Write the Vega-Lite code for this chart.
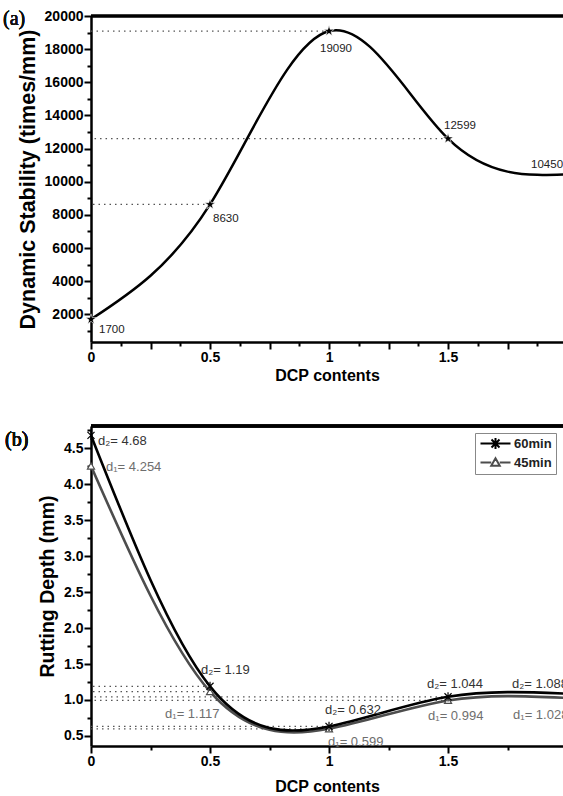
{
  "$schema": "https://vega.github.io/schema/vega-lite/v6.json",
  "background": "white",
  "padding": {"left": 3, "top": 9, "right": 0, "bottom": 0},
  "spacing": 40,
  "datasets": {
    "stab": [
      {"c": 0, "v": 1700},
      {"c": 0.5, "v": 8630},
      {"c": 1, "v": 19090},
      {"c": 1.5, "v": 12599},
      {"c": 2, "v": 10450}
    ],
    "rut": [
      {"c": 0, "d": 4.254, "s": "45min", "lab": "d₁= 4.254"},
      {"c": 0.5, "d": 1.117, "s": "45min", "lab": "d₁= 1.117"},
      {"c": 1, "d": 0.599, "s": "45min", "lab": "d₁= 0.599"},
      {"c": 1.5, "d": 0.994, "s": "45min", "lab": "d₁= 0.994"},
      {"c": 2, "d": 1.028, "s": "45min", "lab": "d₁= 1.028"},
      {"c": 0, "d": 4.68, "s": "60min", "lab": "d₂= 4.68"},
      {"c": 0.5, "d": 1.19, "s": "60min", "lab": "d₂= 1.19"},
      {"c": 1, "d": 0.632, "s": "60min", "lab": "d₂= 0.632"},
      {"c": 1.5, "d": 1.044, "s": "60min", "lab": "d₂= 1.044"},
      {"c": 2, "d": 1.088, "s": "60min", "lab": "d₂= 1.088"}
    ]
  },
  "resolve": {"scale": {"color": "independent"}, "legend": {"color": "independent"}},
  "vconcat": [
    {
      "width": 472,
      "height": 326,
      "data": {"name": "stab"},
      "layer": [
        {"mark": {"type": "rule", "color": "black", "strokeWidth": 2.5}, "encoding": {"y": {"datum": 20000, "type": "quantitative"}}},
        {"mark": {"type": "text", "text": "(a)", "align": "left", "baseline": "middle", "dx": -88, "dy": 3, "font": "Liberation Serif", "fontSize": 20, "fontWeight": "normal", "color": "#111111"}, "encoding": {"x": {"datum": 0, "type": "quantitative"}, "y": {"datum": 20000, "type": "quantitative"}}},
        {"transform": [{"filter": "datum.c > 0 && datum.c < 2"}], "mark": {"type": "rule", "color": "#555555", "strokeWidth": 1.2, "strokeDash": [1.5, 4]}, "encoding": {"x": {"field": "c", "type": "quantitative"}, "x2": {"datum": 0}, "y": {"field": "v", "type": "quantitative"}}},
        {"mark": {"type": "line", "interpolate": "natural", "color": "black", "strokeWidth": 2.5, "clip": true},
          "encoding": {
            "x": {"field": "c", "type": "quantitative", "scale": {"domain": [0, 1.983], "nice": false, "zero": false},
              "axis": {"title": "DCP contents", "titleFontSize": 16, "titlePadding": 3, "values": [0, 0.125, 0.25, 0.375, 0.5, 0.625, 0.75, 0.875, 1, 1.125, 1.25, 1.375, 1.5, 1.625, 1.75, 1.875], "tickCount": 100, "format": "~g", "labelExpr": "datum.value % 0.5 === 0 ? datum.label : ''", "labelFlush": false, "labelOverlap": false, "tickSize": {"condition": {"test": "datum.value % 0.25 === 0", "value": 7}, "value": 4}}},
            "y": {"field": "v", "type": "quantitative", "scale": {"domain": [330, 20000], "nice": false, "zero": false},
              "axis": {"title": "Dynamic Stability (times/mm)", "titleFontSize": 21.5, "titlePadding": 5, "values": [1000, 2000, 3000, 4000, 5000, 6000, 7000, 8000, 9000, 10000, 11000, 12000, 13000, 14000, 15000, 16000, 17000, 18000, 19000, 20000], "tickCount": 100, "format": "d", "labelExpr": "datum.value % 2000 === 0 ? datum.label : ''", "labelOverlap": false, "tickSize": {"condition": {"test": "datum.value % 2000 === 0", "value": 7}, "value": 4}}}
          }},
        {"transform": [{"filter": "datum.c < 2"}], "mark": {"type": "point", "shape": "M0,-1L0.2245,-0.309L0.951,-0.309L0.363,0.118L0.588,0.809L0,0.382L-0.588,0.809L-0.363,0.118L-0.951,-0.309L-0.2245,-0.309Z", "filled": true, "fill": "black", "stroke": "white", "strokeWidth": 0.6, "size": 120, "opacity": 1},
          "encoding": {"x": {"field": "c", "type": "quantitative"}, "y": {"field": "v", "type": "quantitative"}}},
        {"transform": [{"filter": "datum.c === 0"}], "mark": {"type": "text", "align": "left", "baseline": "middle", "dx": 8, "dy": 11, "font": "Liberation Sans", "fontSize": 11.5, "color": "#222222"},
          "encoding": {"x": {"field": "c", "type": "quantitative"}, "y": {"field": "v", "type": "quantitative"}, "text": {"field": "v", "type": "quantitative", "format": "d"}}},
        {"transform": [{"filter": "datum.c === 0.5"}], "mark": {"type": "text", "align": "left", "baseline": "middle", "dx": 3, "dy": 15, "font": "Liberation Sans", "fontSize": 11.5, "color": "#222222"},
          "encoding": {"x": {"field": "c", "type": "quantitative"}, "y": {"field": "v", "type": "quantitative"}, "text": {"field": "v", "type": "quantitative", "format": "d"}}},
        {"transform": [{"filter": "datum.c === 1"}], "mark": {"type": "text", "align": "center", "baseline": "middle", "dx": 7, "dy": 18, "font": "Liberation Sans", "fontSize": 11.5, "color": "#222222"},
          "encoding": {"x": {"field": "c", "type": "quantitative"}, "y": {"field": "v", "type": "quantitative"}, "text": {"field": "v", "type": "quantitative", "format": "d"}}},
        {"transform": [{"filter": "datum.c === 1.5"}], "mark": {"type": "text", "align": "left", "baseline": "middle", "dx": -4, "dy": -13, "font": "Liberation Sans", "fontSize": 11.5, "color": "#222222"},
          "encoding": {"x": {"field": "c", "type": "quantitative"}, "y": {"field": "v", "type": "quantitative"}, "text": {"field": "v", "type": "quantitative", "format": "d"}}},
        {"transform": [{"filter": "datum.c === 2"}], "mark": {"type": "text", "align": "right", "baseline": "middle", "dx": -4, "dy": -9, "font": "Liberation Sans", "fontSize": 11.5, "color": "#222222"},
          "encoding": {"x": {"field": "c", "type": "quantitative"}, "y": {"field": "v", "type": "quantitative"}, "text": {"field": "v", "type": "quantitative", "format": "d"}}}
      ]
    },
    {
      "width": 472,
      "height": 320,
      "data": {"name": "rut"},
      "layer": [
        {"mark": {"type": "rule", "color": "black", "strokeWidth": 2.5}, "encoding": {"y": {"datum": 4.81, "type": "quantitative"}}},
        {"mark": {"type": "text", "text": "(b)", "align": "left", "baseline": "middle", "dx": -86, "dy": 14, "font": "Liberation Serif", "fontSize": 20, "fontWeight": "normal", "color": "#111111"}, "encoding": {"x": {"datum": 0, "type": "quantitative"}, "y": {"datum": 4.81, "type": "quantitative"}}},
        {"transform": [{"filter": "datum.c > 0 && datum.c < 2"}], "mark": {"type": "rule", "color": "#555555", "strokeWidth": 1.2, "strokeDash": [1.5, 4]}, "encoding": {"x": {"field": "c", "type": "quantitative"}, "x2": {"datum": 0}, "y": {"field": "d", "type": "quantitative"}}},
        {"mark": {"type": "line", "interpolate": "natural", "strokeWidth": 2.6, "clip": true},
          "encoding": {
            "x": {"field": "c", "type": "quantitative", "scale": {"domain": [0, 1.983], "nice": false, "zero": false},
              "axis": {"title": "DCP contents", "titleFontSize": 16, "titlePadding": 10, "values": [0, 0.25, 0.5, 0.75, 1, 1.25, 1.5, 1.75], "tickCount": 100, "format": "~g", "labelExpr": "datum.value % 0.5 === 0 ? datum.label : ''", "labelFlush": false, "labelOverlap": false, "tickSize": {"condition": {"test": "datum.value % 0.5 === 0", "value": 7}, "value": 4}}},
            "y": {"field": "d", "type": "quantitative", "scale": {"domain": [0.36, 4.81], "nice": false, "zero": false},
              "axis": {"title": "Rutting Depth (mm)", "titleFontSize": 19.5, "titlePadding": 6, "values": [0.5, 0.75, 1, 1.25, 1.5, 1.75, 2, 2.25, 2.5, 2.75, 3, 3.25, 3.5, 3.75, 4, 4.25, 4.5, 4.75], "tickCount": 100, "format": ".1f", "labelExpr": "datum.value % 0.5 === 0 ? datum.label : ''", "labelOverlap": false, "tickSize": {"condition": {"test": "datum.value % 0.5 === 0", "value": 7}, "value": 4}}},
            "color": {"field": "s", "type": "nominal", "scale": {"domain": ["60min", "45min"], "range": ["#000000", "#4d4d4d"]},
              "legend": {"title": null, "orient": "top-right", "offset": 7, "padding": 4, "strokeColor": "#888888", "fillColor": "white", "cornerRadius": 0, "labelFont": "Liberation Sans", "labelFontSize": 13, "labelFontWeight": "bold", "labelColor": "#222222", "symbolType": "M-3,0L3,0", "symbolSize": 100, "symbolStrokeWidth": 2, "symbolOffset": 10, "labelOffset": 12, "rowPadding": 1,
                "encode": {"symbols": {"update": {"shape": {"signal": "datum.value === '60min' ? 'M-3,0L3,0M-0.8,-0.8L0.8,0.8M-0.8,0.8L0.8,-0.8M0,-1.1L0,1.1' : 'M-3,0L-0.85,0M0.85,0L3,0M-0.85,0.65L0,-0.85L0.85,0.65Z'"}, "fill": {"value": "white"}}}}}}
          }},
        {"transform": [{"filter": "datum.c < 2 && datum.s === '45min'"}], "mark": {"type": "point", "shape": "triangle-up", "filled": false, "fill": "white", "stroke": "#4d4d4d", "size": 50, "strokeWidth": 1.2, "opacity": 1},
          "encoding": {"x": {"field": "c", "type": "quantitative"}, "y": {"field": "d", "type": "quantitative"}}},
        {"transform": [{"filter": "datum.c < 2 && datum.s === '60min'"}], "mark": {"type": "point", "shape": "M-1,-1L1,1M-1,1L1,-1M0,-1.3L0,1.3", "filled": false, "stroke": "#000000", "size": 50, "strokeWidth": 1.2, "opacity": 1},
          "encoding": {"x": {"field": "c", "type": "quantitative"}, "y": {"field": "d", "type": "quantitative"}}},
        {"transform": [{"filter": "datum.s === '60min' && datum.c === 0"}], "mark": {"type": "text", "align": "left", "baseline": "middle", "dx": 7, "dy": 6, "font": "Liberation Sans", "fontSize": 13, "color": "#333333"},
          "encoding": {"x": {"field": "c", "type": "quantitative"}, "y": {"field": "d", "type": "quantitative"}, "text": {"field": "lab", "type": "nominal"}}},
        {"transform": [{"filter": "datum.s === '45min' && datum.c === 0"}], "mark": {"type": "text", "align": "left", "baseline": "middle", "dx": 15, "dy": 1.5, "font": "Liberation Sans", "fontSize": 13, "color": "#6e6e6e"},
          "encoding": {"x": {"field": "c", "type": "quantitative"}, "y": {"field": "d", "type": "quantitative"}, "text": {"field": "lab", "type": "nominal"}}},
        {"transform": [{"filter": "datum.s === '60min' && datum.c === 0.5"}], "mark": {"type": "text", "align": "left", "baseline": "middle", "dx": -9, "dy": -16, "font": "Liberation Sans", "fontSize": 13, "color": "#333333"},
          "encoding": {"x": {"field": "c", "type": "quantitative"}, "y": {"field": "d", "type": "quantitative"}, "text": {"field": "lab", "type": "nominal"}}},
        {"transform": [{"filter": "datum.s === '45min' && datum.c === 0.5"}], "mark": {"type": "text", "align": "left", "baseline": "middle", "dx": -45, "dy": 22, "font": "Liberation Sans", "fontSize": 13, "color": "#6e6e6e"},
          "encoding": {"x": {"field": "c", "type": "quantitative"}, "y": {"field": "d", "type": "quantitative"}, "text": {"field": "lab", "type": "nominal"}}},
        {"transform": [{"filter": "datum.s === '60min' && datum.c === 1"}], "mark": {"type": "text", "align": "left", "baseline": "middle", "dx": -4, "dy": -16, "font": "Liberation Sans", "fontSize": 13, "color": "#333333"},
          "encoding": {"x": {"field": "c", "type": "quantitative"}, "y": {"field": "d", "type": "quantitative"}, "text": {"field": "lab", "type": "nominal"}}},
        {"transform": [{"filter": "datum.s === '45min' && datum.c === 1"}], "mark": {"type": "text", "align": "left", "baseline": "middle", "dx": -1, "dy": 13, "font": "Liberation Sans", "fontSize": 13, "color": "#6e6e6e"},
          "encoding": {"x": {"field": "c", "type": "quantitative"}, "y": {"field": "d", "type": "quantitative"}, "text": {"field": "lab", "type": "nominal"}}},
        {"transform": [{"filter": "datum.s === '60min' && datum.c === 1.5"}], "mark": {"type": "text", "align": "left", "baseline": "middle", "dx": -21, "dy": -13, "font": "Liberation Sans", "fontSize": 13, "color": "#333333"},
          "encoding": {"x": {"field": "c", "type": "quantitative"}, "y": {"field": "d", "type": "quantitative"}, "text": {"field": "lab", "type": "nominal"}}},
        {"transform": [{"filter": "datum.s === '45min' && datum.c === 1.5"}], "mark": {"type": "text", "align": "left", "baseline": "middle", "dx": -20, "dy": 16, "font": "Liberation Sans", "fontSize": 13, "color": "#6e6e6e"},
          "encoding": {"x": {"field": "c", "type": "quantitative"}, "y": {"field": "d", "type": "quantitative"}, "text": {"field": "lab", "type": "nominal"}}},
        {"transform": [{"filter": "datum.s === '60min' && datum.c === 2"}], "mark": {"type": "text", "align": "left", "baseline": "middle", "dx": -55, "dy": -10, "font": "Liberation Sans", "fontSize": 13, "color": "#333333", "clip": true},
          "encoding": {"x": {"field": "c", "type": "quantitative"}, "y": {"field": "d", "type": "quantitative"}, "text": {"field": "lab", "type": "nominal"}}},
        {"transform": [{"filter": "datum.s === '45min' && datum.c === 2"}], "mark": {"type": "text", "align": "left", "baseline": "middle", "dx": -54, "dy": 17, "font": "Liberation Sans", "fontSize": 13, "color": "#6e6e6e", "clip": true},
          "encoding": {"x": {"field": "c", "type": "quantitative"}, "y": {"field": "d", "type": "quantitative"}, "text": {"field": "lab", "type": "nominal"}}}
      ]
    }
  ],
  "config": {
    "view": {"stroke": null},
    "axis": {"grid": false, "domainColor": "black", "domainWidth": 2.5, "tickColor": "black", "tickWidth": 2, "labelFont": "Liberation Sans", "labelFontWeight": "bold", "labelFontSize": 14, "labelColor": "black", "labelPadding": 1, "titleFont": "Liberation Sans", "titleFontWeight": "bold", "titleColor": "black"}
  }
}
